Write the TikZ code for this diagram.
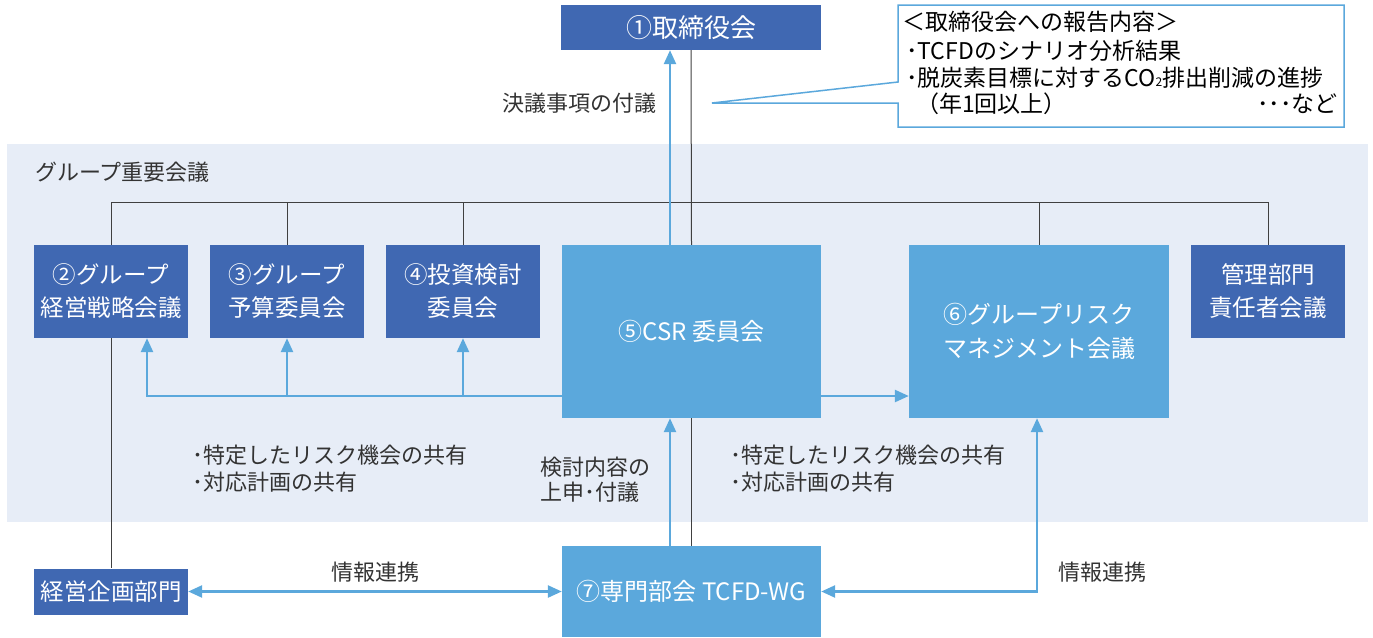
\documentclass[tikz,border=0pt]{standalone}
\usepackage{fontspec}
\setmainfont{Noto Sans CJK JP}
\usetikzlibrary{arrows.meta}
\definecolor{dblue}{HTML}{4068B2}
\definecolor{lblue}{HTML}{5BA8DC}
\definecolor{panelc}{HTML}{E7EDF7}
\definecolor{txtc}{HTML}{333333}
\begin{document}
\begin{tikzpicture}[x=1pt,y=-1pt,
  dbox/.style={fill=dblue,text=white,inner sep=0pt,align=center,font=\fontsize{23.5}{33}\selectfont},
  lbox/.style={fill=lblue,text=white,inner sep=0pt,align=center,font=\fontsize{24}{34}\selectfont},
  tree/.style={draw=black!75,line width=1pt},
  arr/.style={draw=lblue,line width=2.5pt,-{Triangle[length=14pt,width=12pt]}},
  arrb/.style={draw=lblue,line width=2.5pt,{Triangle[length=14pt,width=12pt]}-{Triangle[length=14pt,width=12pt]}},
  lbl/.style={text=txtc,inner sep=0pt,align=left,font=\fontsize{22}{27}\selectfont},
  rep/.style={text=black,inner sep=0pt,anchor=west,font=\fontsize{23}{24}\selectfont}]
\useasboundingbox (0,0) rectangle (1373,637);
\fill[panelc] (7,144) rectangle (1368,522);
% report callout
\draw[lblue,line width=1.5pt,fill=white] (898,82) -- (898,5) -- (1344,5) -- (1344,127) -- (898,127) -- (898,103) -- (712,103) -- cycle;
\node[rep] (r1) at (902,22) {＜取締役会への報告内容＞};
\node[rep] (r2) at (906,51) {･TCFDのシナリオ分析結果};
\node[rep] (r3) at (906,78) {･脱炭素目標に対するCO{\fontsize{12}{12}\selectfont 2}排出削減の進捗};
\node[rep] (r4) at (916,104) {（年1回以上）};
\node[rep,anchor=east] (r5) at (1338,104) {･･･など};
% nodes
\node[dbox,minimum width=260pt,minimum height=45pt,font=\fontsize{26}{30}\selectfont] (n1) at (691,27.5) {①取締役会};
\node[dbox,minimum width=154pt,minimum height=93pt] (n2) at (111,291.5) {②グループ\\経営戦略会議};
\node[dbox,minimum width=154pt,minimum height=93pt] (n3) at (287,291.5) {③グループ\\予算委員会};
\node[dbox,minimum width=154pt,minimum height=93pt] (n4) at (463,291.5) {④投資検討\\委員会};
\node[lbox,minimum width=259pt,minimum height=173pt] (n5) at (691.5,331.5) {⑤CSR 委員会};
\node[lbox,minimum width=260pt,minimum height=173pt] (n6) at (1039,331.5) {⑥グループリスク\\マネジメント会議};
\node[dbox,minimum width=154pt,minimum height=93pt] (nk) at (1268,291.5) {管理部門\\責任者会議};
\node[dbox,minimum width=154pt,minimum height=46pt] (nb) at (111,591.5) {経営企画部門};
\node[lbox,minimum width=259pt,minimum height=91pt] (n7) at (691.5,591.5) {⑦専門部会 TCFD-WG};
% labels
\node[lbl,anchor=east] (l1) at (657,103) {決議事項の付議};
\node[lbl,anchor=west] (l2) at (35,172) {グループ重要会議};
\node[lbl,anchor=west] (l3) at (192,468.5) {･特定したリスク機会の共有\\･対応計画の共有};
\node[lbl,anchor=west] (l4) at (730,468.5) {･特定したリスク機会の共有\\･対応計画の共有};
\node[lbl,anchor=west,font=\fontsize{22}{25}\selectfont] (l5) at (540,479.5) {検討内容の\\上申･付議};
\node[lbl] (l6) at (375,572) {情報連携};
\node[lbl] (l7) at (1102,572) {情報連携};
% helper coordinates
\coordinate (ty) at (0,202);
\coordinate (ux) at (670,0);
\coordinate (ay) at (0,396);
\coordinate (a2) at (147,0);
\coordinate (bx) at (1037,0);
% tree lines
\draw[tree] (n1.south) -- (n5.north);
\draw[tree] (n5.south) -- (n7.north);
\draw[tree] (n2.north) -- (n2.north |- ty) -- (nk.north |- ty) -- (nk.north);
\foreach \n in {n3,n4,n6} \draw[tree] (\n.north) -- (\n.north |- ty);
\draw[tree] (n2.south) -- (nb.north);
% blue arrows
\draw[arr] (n5.north -| ux) -- (n1.south -| ux);
\draw[arr] (n7.north -| ux) -- (n5.south -| ux);
\draw[arr] (n5.west |- ay) -| (n2.south -| a2);
\draw[arr] (n3.south |- ay) -- (n3.south);
\draw[arr] (n4.south |- ay) -- (n4.south);
\draw[arr] (n5.east |- ay) -- (n6.west |- ay);
\draw[arrb] (nb.east) -- (n7.west);
\draw[arrb] (n7.east) -| (n6.south -| bx);
\end{tikzpicture}
\end{document}
